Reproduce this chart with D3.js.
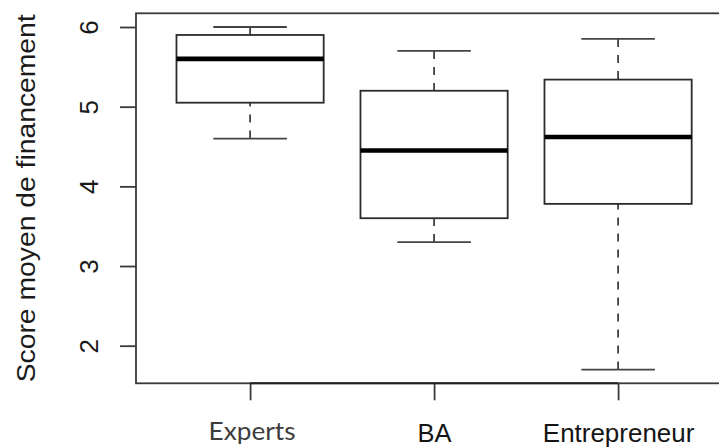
<!DOCTYPE html>
<html>
<head>
<meta charset="utf-8">
<script src="https://cdn.jsdelivr.net/npm/d3@7"></script>
<style>
  html, body { margin: 0; padding: 0; background: #fff; }
  svg { display: block; }
</style>
</head>
<body>
<svg id="chart" width="719" height="448"></svg>
<script>
// Groups and their five-number summaries (lower whisker, Q1, median, Q3, upper whisker)
const groups = ["Experts", "BA", "Entrepreneur"];
const whiskerLow = [4.6, 3.3, 1.7];
const q1 = [5.05, 3.6, 3.78];
const median = [5.6, 4.45, 4.62];
const q3 = [5.9, 5.2, 5.34];
const whiskerHigh = [6.0, 5.7, 5.85];
const yTicks = [2, 3, 4, 5, 6];
const yTitle = "Score moyen de financement";

const svg = d3.select("#chart");

// Plot frame, base-graphics style: 4% padding around the data range
const plotLeft = 136, plotTop = 13.3, plotBottom = 383.3, unit = 184;
const lo = d3.min(whiskerLow), hi = d3.max(whiskerHigh);
const pad = (hi - lo) * 0.04;
const y = d3.scaleLinear().domain([lo - pad, hi + pad]).range([plotBottom, plotTop]);
const x = d3.scaleLinear().domain([0.38, 3.62]).range([plotLeft, plotLeft + 3.24 * unit]);

const ink = "#2b2b2b";

// Frame (right side runs past the page edge)
svg.append("rect")
  .attr("x", x(0.38)).attr("y", plotTop)
  .attr("width", x(3.62) - x(0.38)).attr("height", plotBottom - plotTop)
  .attr("fill", "none").attr("stroke", "#3a3a3a").attr("stroke-width", 1.8);

const data = groups.map((g, i) => ({
  name: g, pos: i + 1,
  lo: whiskerLow[i], q1: q1[i], med: median[i], q3: q3[i], hi: whiskerHigh[i]
}));

const boxHalf = 0.4, capHalf = 0.2;
const gBox = svg.append("g").attr("fill", "none").attr("stroke", ink);

data.forEach(d => {
  const g = gBox.append("g");
  // dashed whiskers, drawn from the whisker end toward the box
  [[d.lo, d.q1], [d.hi, d.q3]].forEach(([a, b]) => {
    g.append("line")
      .attr("x1", x(d.pos)).attr("x2", x(d.pos))
      .attr("y1", y(a)).attr("y2", y(b))
      .attr("stroke-width", 1.6).attr("stroke-dasharray", "8,8");
  });
  // whisker caps
  [d.lo, d.hi].forEach(v => {
    g.append("line")
      .attr("x1", x(d.pos - capHalf)).attr("x2", x(d.pos + capHalf))
      .attr("y1", y(v)).attr("y2", y(v))
      .attr("stroke", "#444").attr("stroke-width", 1.8);
  });
  // box
  g.append("rect")
    .attr("x", x(d.pos - boxHalf)).attr("y", y(d.q3))
    .attr("width", x(d.pos + boxHalf) - x(d.pos - boxHalf))
    .attr("height", y(d.q1) - y(d.q3))
    .attr("fill", "#fff").attr("stroke-width", 1.8);
  // median
  g.append("line")
    .attr("x1", x(d.pos - boxHalf)).attr("x2", x(d.pos + boxHalf))
    .attr("y1", y(d.med)).attr("y2", y(d.med))
    .attr("stroke", "#000").attr("stroke-width", 4.6);
});

// Y axis with rotated tick labels
const yAxis = svg.append("g")
  .attr("transform", `translate(${plotLeft},0)`)
  .call(d3.axisLeft(y).tickValues(yTicks).tickSize(16).tickFormat(d3.format("d")));
yAxis.select(".domain").remove();
yAxis.selectAll(".tick line").attr("stroke", "#3a3a3a").attr("stroke-width", 1.8);
yAxis.selectAll(".tick text")
  .attr("x", null).attr("dy", null)
  .attr("transform", "translate(-38.5,0) rotate(-90)")
  .attr("text-anchor", "middle")
  .attr("fill", "#1a1a1a")
  .style("font-family", "'Liberation Sans', Arial, sans-serif")
  .style("font-size", "26px");

// X axis: ticks at each group, axis line from first to last group
const xAxis = svg.append("g")
  .attr("transform", `translate(0,${plotBottom})`)
  .call(d3.axisBottom(x).tickValues(data.map(d => d.pos)).tickSize(17).tickFormat(""));
xAxis.select(".domain").remove();
xAxis.selectAll(".tick line").attr("stroke", "#3a3a3a").attr("stroke-width", 1.8);
xAxis.append("line")
  .attr("x1", x(1)).attr("x2", x(3)).attr("y1", 0).attr("y2", 0)
  .attr("stroke", "#222").attr("stroke-width", 2);

// Group labels
const labelFont = {
  Experts: { family: "Lato, 'Open Sans', sans-serif", size: 25.5, base: 440, color: "#3d3d3d", len: 87 },
  BA: { family: "'Liberation Sans', Arial, sans-serif", size: 25.5, base: 442.3, color: "#151515", len: null },
  Entrepreneur: { family: "'Liberation Sans', Arial, sans-serif", size: 25.5, base: 442.3, color: "#151515", len: 151.5 }
};
svg.append("g").selectAll("text").data(data).join("text")
  .attr("x", d => x(d.pos) + (d.name === "Experts" ? 2 : 0.5))
  .attr("y", d => labelFont[d.name].base)
  .attr("text-anchor", "middle")
  .attr("fill", d => labelFont[d.name].color)
  .style("font-family", d => labelFont[d.name].family)
  .style("font-size", d => labelFont[d.name].size + "px")
  .each(function(d) {
    const f = labelFont[d.name];
    if (f.len) d3.select(this).attr("textLength", f.len).attr("lengthAdjust", "spacingAndGlyphs");
  })
  .text(d => d.name);

// Y axis title
svg.append("text")
  .attr("transform", `translate(34.5,${(plotTop + plotBottom) / 2}) rotate(-90)`)
  .attr("text-anchor", "middle")
  .attr("fill", "#1a1a1a")
  .attr("textLength", 368)
  .attr("lengthAdjust", "spacingAndGlyphs")
  .style("font-family", "'Liberation Sans', Arial, sans-serif")
  .style("font-size", "26.5px")
  .text(yTitle);
</script>
</body>
</html>
